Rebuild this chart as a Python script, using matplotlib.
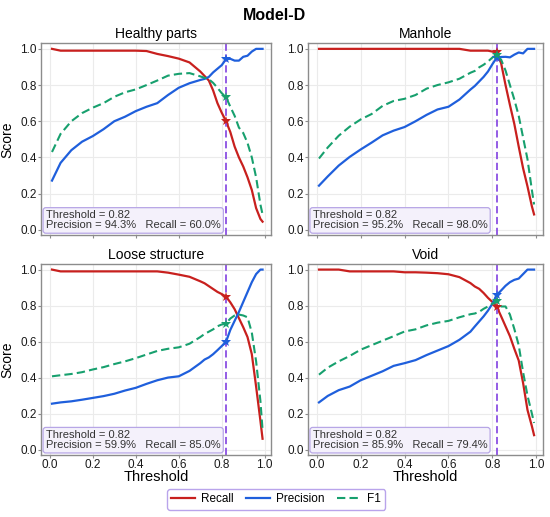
import matplotlib.pyplot as plt

plt.rcParams['font.family'] = ['Liberation Sans', 'DejaVu Sans']

#################### data
thresholds = [0.01, 0.05, 0.10, 0.15, 0.20, 0.25, 0.30, 0.35, 0.40, 0.45,
              0.50, 0.55, 0.60, 0.65, 0.70, 0.72, 0.74, 0.76, 0.78, 0.80,
              0.82, 0.84, 0.86, 0.88, 0.90, 0.92, 0.94, 0.96, 0.98, 0.99]

classes = ['Healthy parts', 'Manhole', 'Loose structure', 'Void']

healthy_recall = [1.0, 0.99, 0.99, 0.99, 0.99, 0.99, 0.99, 0.99, 0.99, 0.988,
                  0.972, 0.96, 0.946, 0.925, 0.875, 0.85, 0.825, 0.77, 0.70, 0.647,
                  0.60, 0.54, 0.46, 0.40, 0.35, 0.29, 0.22, 0.12, 0.06, 0.045]
healthy_precision = [0.272, 0.37, 0.44, 0.487, 0.518, 0.556, 0.60, 0.625, 0.656, 0.68,
                     0.70, 0.745, 0.785, 0.81, 0.828, 0.834, 0.845, 0.87, 0.89, 0.91,
                     0.943, 0.945, 0.935, 0.935, 0.956, 0.962, 0.985, 1.0, 1.0, 1.0]
healthy_f1 = [0.43, 0.53, 0.60, 0.645, 0.675, 0.70, 0.735, 0.76, 0.776, 0.80,
              0.825, 0.852, 0.862, 0.866, 0.848, 0.84, 0.832, 0.812, 0.785, 0.755,
              0.733, 0.68, 0.63, 0.565, 0.535, 0.48, 0.40, 0.29, 0.14, 0.085]

manhole_recall = [1.0, 1.0, 1.0, 1.0, 1.0, 1.0, 1.0, 1.0, 1.0, 1.0,
                  1.0, 1.0, 1.0, 1.0, 0.99, 0.99, 0.99, 0.99, 0.99, 0.985,
                  0.98, 0.92, 0.80, 0.69, 0.585, 0.46, 0.34, 0.24, 0.13, 0.085]
manhole_precision = [0.244, 0.295, 0.355, 0.403, 0.444, 0.482, 0.522, 0.548, 0.568, 0.60,
                     0.635, 0.665, 0.68, 0.72, 0.775, 0.795, 0.82, 0.845, 0.875, 0.915,
                     0.952, 0.955, 0.956, 0.953, 0.968, 0.98, 0.975, 1.0, 1.0, 1.0]
manhole_f1 = [0.394, 0.455, 0.52, 0.57, 0.61, 0.64, 0.685, 0.712, 0.724, 0.745,
              0.78, 0.80, 0.815, 0.835, 0.868, 0.878, 0.898, 0.912, 0.93, 0.952,
              0.966, 0.94, 0.88, 0.80, 0.72, 0.63, 0.51, 0.39, 0.22, 0.14]

loose_recall = [1.0, 0.99, 0.99, 0.99, 0.99, 0.99, 0.99, 0.99, 0.99, 0.99,
                0.99, 0.983, 0.972, 0.96, 0.935, 0.924, 0.908, 0.892, 0.876, 0.864,
                0.85, 0.818, 0.78, 0.73, 0.68, 0.625, 0.53, 0.35, 0.16, 0.06]
loose_precision = [0.255, 0.262, 0.268, 0.277, 0.287, 0.297, 0.31, 0.328, 0.343, 0.365,
                   0.385, 0.40, 0.407, 0.437, 0.48, 0.50, 0.512, 0.53, 0.552, 0.575,
                   0.599, 0.665, 0.715, 0.765, 0.82, 0.875, 0.93, 0.975, 1.0, 1.0]
loose_f1 = [0.407, 0.413, 0.42, 0.43, 0.445, 0.458, 0.475, 0.49, 0.508, 0.528,
            0.548, 0.56, 0.568, 0.588, 0.625, 0.642, 0.655, 0.668, 0.685, 0.695,
            0.70, 0.728, 0.745, 0.75, 0.745, 0.735, 0.65, 0.49, 0.27, 0.11]

void_recall = [1.0, 1.0, 1.0, 0.99, 0.99, 0.99, 0.99, 0.99, 0.985, 0.985,
               0.983, 0.98, 0.974, 0.958, 0.925, 0.906, 0.893, 0.87, 0.843, 0.82,
               0.794, 0.74, 0.685, 0.63, 0.56, 0.495, 0.37, 0.22, 0.13, 0.08]
void_precision = [0.262, 0.298, 0.33, 0.35, 0.385, 0.41, 0.435, 0.465, 0.48, 0.497,
                  0.525, 0.55, 0.575, 0.61, 0.655, 0.684, 0.712, 0.74, 0.772, 0.81,
                  0.859, 0.884, 0.91, 0.93, 0.943, 0.95, 0.975, 1.0, 1.0, 1.0]
void_f1 = [0.416, 0.455, 0.49, 0.52, 0.555, 0.58, 0.605, 0.63, 0.656, 0.668,
           0.69, 0.705, 0.715, 0.735, 0.752, 0.756, 0.765, 0.782, 0.795, 0.81,
           0.825, 0.795, 0.795, 0.75, 0.67, 0.58, 0.43, 0.30, 0.20, 0.148]

recalls = [healthy_recall, manhole_recall, loose_recall, void_recall]
precisions = [healthy_precision, manhole_precision, loose_precision, void_precision]
f1s = [healthy_f1, manhole_f1, loose_f1, void_f1]

best_threshold = 0.82
best_idx = thresholds.index(best_threshold)

#################### styles
red = '#c8201e'
blue = '#1f5fdc'
green = '#17a06e'
purple = '#8b4fe3'

fig = plt.figure(figsize=(5.5, 5.17), dpi=100)
positions = [[0.075, 0.545, 0.418, 0.371],
             [0.560, 0.545, 0.427, 0.371],
             [0.075, 0.120, 0.418, 0.369],
             [0.560, 0.120, 0.427, 0.369]]

for i, name in enumerate(classes):
    ax = fig.add_axes(positions[i])
    ax.set_facecolor('white')
    ax.grid(True, color='#ebebeb', linewidth=0.8)
    ax.set_axisbelow(True)
    for sp in ax.spines.values():
        sp.set_color('#8c8c8c')
        sp.set_linewidth(1.0)

    ax.plot(thresholds, recalls[i], color=red, lw=1.6, label='Recall')
    ax.plot(thresholds, precisions[i], color=blue, lw=1.6, label='Precision')
    ax.plot(thresholds, f1s[i], color=green, lw=1.5, ls=(0, (4, 2)), label='F1')
    ax.axvline(best_threshold, color=purple, lw=1.3, ls=(0, (4, 2)))

    for vals, c in [(recalls[i], red), (precisions[i], blue), (f1s[i], green)]:
        ax.plot(best_threshold, vals[best_idx], marker='*', ms=7.5, color=c,
                markeredgewidth=0)

    txt = 'Threshold = %.2f\nPrecision = %.1f%%   Recall = %.1f%%' % (
        best_threshold, precisions[i][best_idx] * 100, recalls[i][best_idx] * 100)
    ax.text(0.02, 0.025, txt, transform=ax.transAxes, fontsize=8,
            va='bottom', ha='left', color='#333333', linespacing=1.0,
            bbox=dict(boxstyle='round,pad=0.25', facecolor='#f4f1fb',
                      edgecolor='#b7a6e6', linewidth=0.9))

    ax.set_xlim(-0.04, 1.03)
    ax.set_ylim(-0.03, 1.03)
    ax.set_xticks([0.0, 0.2, 0.4, 0.6, 0.8, 1.0])
    ax.set_yticks([0.0, 0.2, 0.4, 0.6, 0.8, 1.0])
    ax.tick_params(labelsize=8.5, length=2, width=0.8, color='#8c8c8c',
                   labelcolor='#1a1a1a', pad=1.2)
    ax.set_title(name, fontsize=10, pad=4)
    if i in (0, 2):
        ax.set_ylabel('Score', fontsize=10)
        ax.yaxis.set_label_coords(-0.115, 0.5)
    if i in (2, 3):
        ax.set_xlabel('Threshold', fontsize=10.5, labelpad=-1)
    else:
        ax.set_xticklabels([])

fig.suptitle('Model-D', fontsize=11.5, fontweight='bold', y=0.985)

handles, labels = ax.get_legend_handles_labels()
leg = fig.legend(handles, labels, loc='center', ncol=3,
                 bbox_to_anchor=(0.502, 0.034), fontsize=8.5, frameon=True,
                 fancybox=True, handlelength=2.0, columnspacing=1.1,
                 handletextpad=0.5, borderpad=0.35)
leg.get_frame().set_edgecolor('#a88ee6')
leg.get_frame().set_linewidth(1.0)

fig.savefig('out.png', dpi=100)
